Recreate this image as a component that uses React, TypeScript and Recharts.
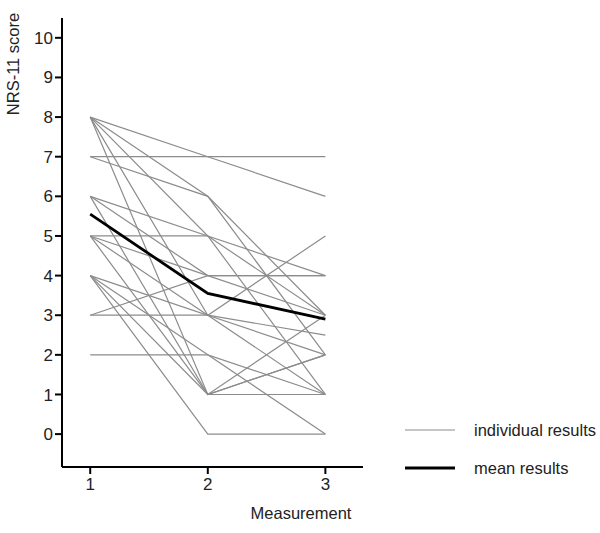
import { LineChart, Line, XAxis, YAxis } from 'recharts';

const measurement1 = [8, 7, 8, 7, 8, 6, 5, 8, 6, 5, 3, 3, 4, 2, 4, 5, 6, 4, 5, 8, 4];
const measurement2 = [7, 7, 6, 6, 5, 5, 5, 3, 4, 4, 4, 3, 3, 2, 2, 1, 1, 0, 3, 1, 1];
const measurement3 = [6, 7, 3, 2, 4, 3, 1, 2, 4, 3, 4, 2.5, 5, 1, 0, 3, 2, 0, 1, 1, 2];
const meanScores = [5.55, 3.55, 2.9];
const measurements = [1, 2, 3];
const yTicks = [0, 1, 2, 3, 4, 5, 6, 7, 8, 9, 10];

const columns = [measurement1, measurement2, measurement3];
const subjectKeys = measurement1.map((_, i) => `p${i}`);

const data = measurements.map((m, mi) => {
  const row: Record<string, number> = { m, mean: meanScores[mi] };
  subjectKeys.forEach((k, i) => {
    row[k] = columns[mi][i];
  });
  return row;
});

const FONT = '"Liberation Sans", Arial, sans-serif';
const GREY = '#8c8c8c';
const TEXT = '#222';

function LegendBox() {
  return (
    <div
      style={{
        position: 'absolute',
        left: 405,
        top: 411,
        width: 195,
        fontFamily: FONT,
        fontSize: 16.5,
        color: TEXT,
        whiteSpace: 'nowrap',
      }}
    >
      <div style={{ display: 'flex', alignItems: 'center', height: 38 }}>
        <svg width={69} height={10}>
          <line x1={0} y1={5} x2={50} y2={5} stroke={GREY} strokeWidth={1.2} />
        </svg>
        <span>individual results</span>
      </div>
      <div style={{ display: 'flex', alignItems: 'center', height: 38 }}>
        <svg width={69} height={10}>
          <line x1={0} y1={5} x2={50} y2={5} stroke="#000" strokeWidth={2.8} />
        </svg>
        <span>mean results</span>
      </div>
    </div>
  );
}

export default function App() {
  return (
    <div style={{ position: 'absolute', left: 0, top: 0, width: 600, height: 533, background: '#fff' }}>
      <LineChart
        width={600}
        height={533}
        data={data}
        margin={{ top: 18, right: 237, left: 0, bottom: 0 }}
      >
        <XAxis
          dataKey="m"
          type="number"
          domain={[0.76, 3.32]}
          ticks={measurements}
          height={66}
          axisLine={{ stroke: '#000', strokeWidth: 2 }}
          tickLine={{ stroke: '#000', strokeWidth: 2 }}
          tickSize={7}
          tickMargin={4}
          tick={{ fontSize: 17, fill: TEXT, fontFamily: FONT }}
          label={{
            content: () => (
              <text
                x={301}
                y={519}
                textAnchor="middle"
                style={{ fontSize: 16.5, fill: TEXT, fontFamily: FONT }}
              >
                Measurement
              </text>
            ),
          }}
        />
        <YAxis
          type="number"
          domain={[-0.83, 10.5]}
          ticks={yTicks}
          width={62}
          axisLine={{ stroke: '#000', strokeWidth: 2 }}
          tickLine={{ stroke: '#000', strokeWidth: 2 }}
          tickSize={7}
          tick={{ fontSize: 17, fill: TEXT, fontFamily: FONT }}
          label={{
            content: () => (
              <text
                x={13}
                y={64}
                transform="rotate(-90, 13, 64)"
                textAnchor="middle"
                dominantBaseline="central"
                style={{ fontSize: 16.5, fill: TEXT, fontFamily: FONT }}
              >
                NRS-11 score
              </text>
            ),
          }}
        />
        {subjectKeys.map((k) => (
          <Line
            key={k}
            dataKey={k}
            type="linear"
            stroke={GREY}
            strokeWidth={1.2}
            dot={false}
            isAnimationActive={false}
          />
        ))}
        <Line
          dataKey="mean"
          type="linear"
          stroke="#000"
          strokeWidth={2.8}
          dot={false}
          isAnimationActive={false}
        />
      </LineChart>
      <LegendBox />
    </div>
  );
}
